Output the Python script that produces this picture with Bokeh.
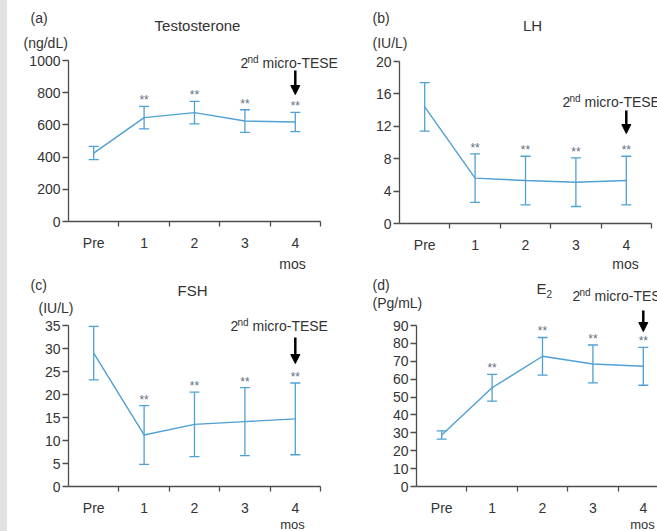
from bokeh.plotting import figure
from bokeh.models import (ColumnDataSource, FixedTicker, Label, Whisker, TeeHead,
                          Arrow, NormalHead, Spacer)
from bokeh.layouts import row, column
from bokeh.embed import file_html
from bokeh.resources import INLINE
from bokeh.core.properties import value

# ---------------- data ----------------
categories = ["Pre", "1", "2", "3", "4"]
x_pos = [0, 1, 2, 3, 4]
star_x = [1, 2, 3, 4]

testosterone_mean = [425, 645, 676, 624, 618]
testosterone_sd = [41, 70, 70, 70, 60]
testosterone_ticks = [0, 200, 400, 600, 800, 1000]

lh_mean = [14.4, 5.6, 5.3, 5.1, 5.3]
lh_sd = [3.0, 3.0, 3.0, 3.0, 3.0]
lh_ticks = [0, 4, 8, 12, 16, 20]

fsh_mean = [29.0, 11.2, 13.5, 14.1, 14.7]
fsh_sd = [5.8, 6.4, 7.0, 7.4, 7.8]
fsh_ticks = [0, 5, 10, 15, 20, 25, 30, 35]

e2_mean = [28.8, 55.2, 72.8, 68.5, 67.2]
e2_sd = [2.3, 7.5, 10.5, 10.6, 10.6]
e2_ticks = [0, 10, 20, 30, 40, 50, 60, 70, 80, 90]

# ---------------- style ----------------
FONT = "Liberation Sans"
TEXT = "#333333"
AXIS = "#4d4d4d"
BLUE = "#4fa0d4"
STAR = "#5f6f84"
X_UNIT = 50.4


def make_panel(fig_x0, fig_y0, width, height, axis_x, y0px, px_per_unit,
               yticks, means, sds, letter, letter_xy, title, title_xy,
               unit, unit_xy, tese_xy, arrow_y, mos_xy, mos_size="14px",
               title_sub=None):
    x_start = -0.5 - (axis_x - fig_x0) / X_UNIT
    x_end = -0.5 + (fig_x0 + width - axis_x) / X_UNIT
    y_start = -(fig_y0 + height - y0px) / px_per_unit
    y_end = (y0px - fig_y0) / px_per_unit
    p = figure(width=width, height=height, x_range=(x_start, x_end),
               y_range=(y_start, y_end),
               output_backend="svg", toolbar_location=None,
               min_border_left=0, min_border_right=0,
               min_border_top=0, min_border_bottom=0)
    p.outline_line_color = None
    p.grid.visible = False
    p.background_fill_color = "white"
    p.border_fill_color = "white"

    def conv(wx, wy):
        return (-0.5 + (wx - axis_x) / X_UNIT, (y0px - wy) / px_per_unit)

    # x axis
    xa = p.xaxis[0]
    xa.fixed_location = 0
    xa.ticker = FixedTicker(ticks=x_pos, minor_ticks=[0.5, 1.5, 2.5, 3.5, 4.5])
    xa.major_label_overrides = {x: c for x, c in zip(x_pos, categories)}
    xa.bounds = (-0.5, 4.5)
    xa.axis_line_color = AXIS
    xa.axis_line_width = 1.3
    xa.major_tick_out = 0
    xa.major_tick_in = 0
    xa.minor_tick_out = 5
    xa.minor_tick_in = 0
    xa.minor_tick_line_color = AXIS
    xa.minor_tick_line_width = 1.3
    xa.major_label_standoff = 8
    xa.major_label_text_font = FONT
    xa.major_label_text_font_size = "14px"
    xa.major_label_text_color = TEXT

    # y axis
    ya = p.yaxis[0]
    ya.fixed_location = -0.5
    ya.ticker = FixedTicker(ticks=yticks, minor_ticks=[])
    ya.bounds = (0, yticks[-1])
    ya.axis_line_color = AXIS
    ya.axis_line_width = 1.3
    ya.major_tick_out = 6
    ya.major_tick_in = 0
    ya.major_tick_line_color = AXIS
    ya.major_tick_line_width = 1.3
    ya.minor_tick_line_color = None
    ya.major_label_standoff = 2
    ya.major_label_text_font = FONT
    ya.major_label_text_font_size = "14px"
    ya.major_label_text_color = TEXT

    upper = [m + s for m, s in zip(means, sds)]
    lower = [m - s for m, s in zip(means, sds)]
    src = ColumnDataSource(dict(x=x_pos, y=means, upper=upper, lower=lower))
    p.line("x", "y", source=src, line_color=BLUE, line_width=1.4)
    p.add_layout(Whisker(source=src, base="x", upper="upper", lower="lower",
                         line_color=BLUE, line_width=1.3,
                         upper_head=TeeHead(size=10, line_color=BLUE, line_width=1.3),
                         lower_head=TeeHead(size=10, line_color=BLUE, line_width=1.3)))
    p.text(x=star_x, y=upper[1:], text=["**"] * 4, text_align="center",
           text_baseline="bottom", y_offset=1, text_font=value(FONT),
           text_font_size="12px", text_color=STAR)

    def lab(wx, wy, text, size="14px", align="left", baseline="middle", color=TEXT):
        x, y = conv(wx, wy)
        p.add_layout(Label(x=x, y=y, text=text, text_font=FONT, text_font_size=size,
                           text_align=align, text_baseline=baseline, text_color=color))

    lab(letter_xy[0], letter_xy[1], letter)
    lab(title_xy[0], title_xy[1], title, size="15px", align="center")
    if title_sub:
        lab(title_xy[0] + 5, title_xy[1] + 5, title_sub, size="10px")
    lab(unit_xy[0], unit_xy[1], unit)
    tx, ty = tese_xy
    lab(tx, ty, "2", size="14px")
    lab(tx + 7, ty - 3, "nd", size="10px")
    lab(tx + 22, ty, "micro-TESE", size="14px")
    lab(mos_xy[0], mos_xy[1], "mos", size=mos_size, align="center", baseline="alphabetic")

    _, ay0 = conv(0, arrow_y[0])
    _, ay1 = conv(0, arrow_y[1])
    p.add_layout(Arrow(x_start=4, y_start=ay0, x_end=4, y_end=ay1, line_color="black",
                       line_width=2.5,
                       end=NormalHead(size=9, fill_color="black", line_color="black",
                                      line_width=1)))
    return p


TOP_H = 271
BOT_H = 531 - TOP_H

pa = make_panel(7, 0, 338, TOP_H, 68, 221, 161 / 1000, testosterone_ticks,
                testosterone_mean, testosterone_sd,
                "(a)", (30, 17), "Testosterone", (197, 25), "(ng/dL)", (23, 42),
                (240, 62), (70, 94), (292, 263))
pb = make_panel(345, 0, 312, TOP_H, 399, 223, 162 / 20, lh_ticks, lh_mean, lh_sd,
                "(b)", (372, 17), "LH", (532, 25), "(IU/L)", (372, 42),
                (562, 101), (110, 133), (625, 263))
pc = make_panel(7, TOP_H, 338, BOT_H, 68, 486, 161 / 35, fsh_ticks, fsh_mean, fsh_sd,
                "(c)", (30, 284), "FSH", (192, 290), "(IU/L)", (38, 307),
                (230, 325), (337, 363), (292, 524), mos_size="13px")
pd_ = make_panel(345, TOP_H, 312, BOT_H, 416, 486, 161 / 90, e2_ticks, e2_mean, e2_sd,
                 "(d)", (372, 284), "E", (541, 288), "(Pg/mL)", (372, 302),
                 (572, 295), (310, 331), (642, 524), mos_size="13px", title_sub="2")

strip = Spacer(width=7, height=531, styles={"background-color": "#e2e2e2"})
layout = row(strip, column(row(pa, pb), row(pc, pd_)))

open("out.html", "w").write(file_html(layout, INLINE))
